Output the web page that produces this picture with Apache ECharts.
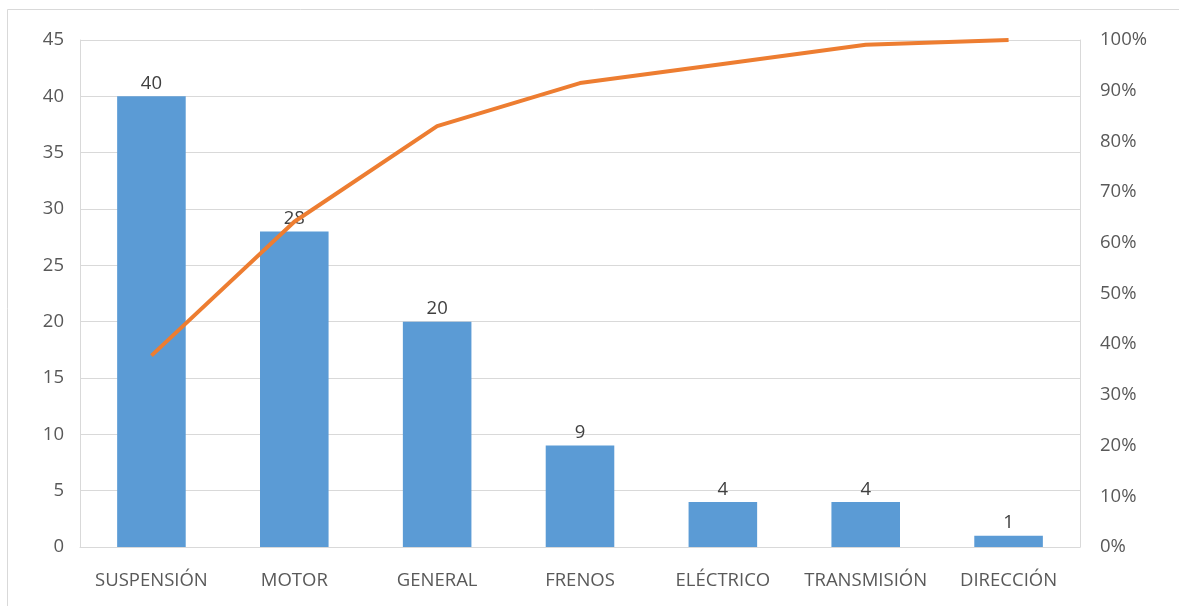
<!DOCTYPE html>
<html lang="es">

<head>
  <meta charset="UTF-8">
  <title>Pareto fallas</title>
  <style>
    html, body { margin: 0; padding: 0; background: #fff; }
  </style>
</head>

<body>
  <div id="main" style="width: 1179px;height:606px;"></div>

  <script src="https://cdn.jsdelivr.net/npm/echarts@6/dist/echarts.min.js"></script>
  <script>

  // datos del grafico
  const categorias = ['SUSPENSIÓN', 'MOTOR', 'GENERAL', 'FRENOS', 'ELÉCTRICO', 'TRANSMISIÓN', 'DIRECCIÓN'];
  const frecuencias = [40, 28, 20, 9, 4, 4, 1];

  // porcentaje acumulado (pareto)
  const total = frecuencias.reduce((a, b) => a + b, 0);
  let suma = 0;
  const acumulado = frecuencias.map(v => {
    suma += v;
    return +(suma / total * 100).toFixed(2);
  });

  const fuente = 'Open Sans';
  const gris = '#595959';

  let myChart = echarts.init(document.getElementById('main'));
  let option = {
    animation: false,
    backgroundColor: '#fff',
    textStyle: { fontFamily: fuente },
    graphic: [{
      type: 'rect',
      shape: { x: 7.5, y: 9.5, width: 1200, height: 620 },
      style: { fill: 'none', stroke: '#d9d9d9', lineWidth: 1 },
      silent: true
    }],
    grid: { left: 80, right: 99, top: 40, bottom: 59 },
    xAxis: {
      type: 'category',
      data: categorias,
      axisLine: { lineStyle: { color: '#d9d9d9' } },
      axisTick: { show: false },
      axisLabel: { color: gris, fontSize: 18.5, margin: 24, interval: 0 }
    },
    yAxis: [{
      type: 'value',
      min: 0,
      max: 45,
      interval: 5,
      axisLine: { show: true, lineStyle: { color: '#d9d9d9' } },
      axisTick: { show: false },
      axisLabel: { color: gris, fontSize: 18.5, margin: 16 },
      splitLine: { lineStyle: { color: '#d9d9d9' } }
    }, {
      type: 'value',
      min: 0,
      max: 100,
      interval: 10,
      axisLine: { show: true, lineStyle: { color: '#d9d9d9' } },
      axisTick: { show: false },
      axisLabel: { color: gris, fontSize: 18.5, margin: 20, formatter: '{value}%' },
      splitLine: { show: false }
    }],
    series: [{
      type: 'bar',
      data: frecuencias,
      barWidth: '48%',
      itemStyle: { color: '#5b9bd5' },
      label: { show: true, position: 'top', color: '#404040', fontSize: 18.5, distance: 3 }
    },
    {
      type: 'line',
      yAxisIndex: 1,
      data: acumulado,
      symbol: 'none',
      lineStyle: { color: '#ed7d31', width: 4 },
      z: 5
    }]
  };

  myChart.setOption(option);
  </script>
</body>

</html>
